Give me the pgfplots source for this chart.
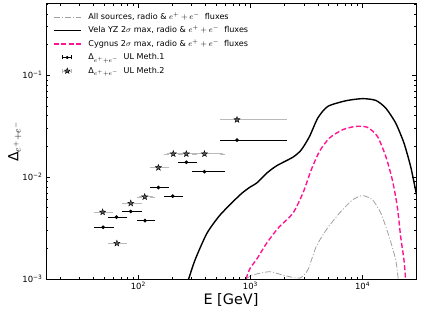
\documentclass[border=0pt]{standalone}
\usepackage{fontspec}
\setmainfont{DejaVu Sans}
\usepackage{pgfplots}
\pgfplotsset{compat=1.18}
\definecolor{cyg}{RGB}{255,20,147}
\definecolor{allsrc}{RGB}{160,160,160}
\definecolor{ebgray}{RGB}{185,185,185}
\definecolor{stargray}{RGB}{90,90,90}
\pgfdeclareplotmark{fstar}{%
 \pgfpathmoveto{\pgfqpointpolar{90}{\pgfplotmarksize}}%
 \pgfpathlineto{\pgfqpointpolar{126}{0.4\pgfplotmarksize}}%
 \pgfpathlineto{\pgfqpointpolar{162}{\pgfplotmarksize}}%
 \pgfpathlineto{\pgfqpointpolar{198}{0.4\pgfplotmarksize}}%
 \pgfpathlineto{\pgfqpointpolar{234}{\pgfplotmarksize}}%
 \pgfpathlineto{\pgfqpointpolar{270}{0.4\pgfplotmarksize}}%
 \pgfpathlineto{\pgfqpointpolar{306}{\pgfplotmarksize}}%
 \pgfpathlineto{\pgfqpointpolar{342}{0.4\pgfplotmarksize}}%
 \pgfpathlineto{\pgfqpointpolar{18}{\pgfplotmarksize}}%
 \pgfpathlineto{\pgfqpointpolar{54}{0.4\pgfplotmarksize}}%
 \pgfpathclose
 \pgfusepathqfillstroke}

\pgfplotstableread{
x y em ep
48.5 3.22e-3 6.1 8.7
63.8 4.05e-3 7.0 12.2
85.5 4.6e-3 9.5 16.5
114.5 3.74e-3 12.5 20.5
151 7.9e-3 16 28
202.6 6.5e-3 23.6 36.4
268 1.40e-2 29 49
389 1.13e-2 72 178
759 2.31e-2 192 1236
}\methone
\pgfplotstableread{
x y em ep
48 4.53e-3 5.6 8.8
64.3 2.24e-3 7.5 11.7
85.5 5.54e-3 9.5 16.5
114 6.4e-3 12 21
151 1.24e-2 16 28
205 1.69e-2 26 34
268 1.69e-2 29 49
389 1.69e-2 72 178
759 3.66e-2 192 1236
}\methtwo

\begin{document}
\begin{tikzpicture}
% data and legend
\begin{axis}[
 scale only axis, width=370bp, height=275bp,
 xmode=log, ymode=log,
 xmin=15, xmax=30000, ymin=1e-3, ymax=0.5,
 xtick=\empty, ytick=\empty,
 axis line style={line width=1bp},
 legend style={draw=none, fill=none, inner sep=0pt, outer sep=0pt,
   at={(axis description cs:0.019,0.970)}, anchor=north west,
   font=\fontsize{8.1}{9}\selectfont, row sep=4bp, column sep=6bp,
   nodes={inner sep=1bp, text height=6bp, text depth=1.5bp}},
 legend cell align=left,
]
\addlegendimage{legend image code/.code={\draw[allsrc, line width=0.8bp, dash pattern=on 6bp off 2bp on 1bp off 2bp] (0bp,0bp)--(27bp,0bp);}}
\addlegendentry{All sources, radio \& $e^{+}+e^{-}$\ \ fluxes}
\addlegendimage{legend image code/.code={\draw[black, line width=1.4bp] (0bp,0bp)--(27bp,0bp);}}
\addlegendentry{Vela YZ 2$\sigma$ max, radio \& $e^{+}+e^{-}$\ \ fluxes}
\addlegendimage{legend image code/.code={\draw[cyg, line width=1.4bp, dash pattern=on 5bp off 2.5bp] (0bp,0bp)--(27bp,0bp);}}
\addlegendentry{Cygnus 2$\sigma$ max, radio \& $e^{+}+e^{-}$\ \ fluxes}
\addlegendimage{legend image code/.code={\draw[black, line width=0.6bp] (9bp,0bp)--(18bp,0bp) (9bp,-2bp)--(9bp,2bp) (18bp,-2bp)--(18bp,2bp); \fill[black] (13.5bp,0bp) circle (1.4bp);}}
\addlegendentry{Δ$_{e^{+}+e^{-}}$ \ UL Meth.1}
\addlegendimage{legend image code/.code={\draw[ebgray, line width=0.6bp] (9bp,0bp)--(18bp,0bp) (9bp,-2bp)--(9bp,2bp) (18bp,-2bp)--(18bp,2bp); \draw[black, fill=stargray, line width=0.4bp, mark size=3bp] plot[only marks, mark=fstar] coordinates {(13.5bp,0bp)};}}
\addlegendentry{Δ$_{e^{+}+e^{-}}$ \ UL Meth.2}

% Meth.1
\addplot[forget plot, black, line width=0.8bp, only marks, mark=*, mark size=1.4bp,
  error bars/.cd, x dir=both, x explicit, error mark options={black, mark size=2.5bp, line width=0.6bp},
  error bar style={black, line width=0.8bp}]
  table[x=x, y=y, x error minus=em, x error plus=ep] {\methone};
% Meth.2
\addplot[forget plot, only marks, mark=fstar, mark size=3.2bp, mark options={draw=black, fill=stargray, line width=0.4bp},
  error bars/.cd, x dir=both, x explicit, error mark options={ebgray, mark size=2.5bp, line width=0.6bp},
  error bar style={ebgray, line width=0.8bp}]
  table[x=x, y=y, x error minus=em, x error plus=ep] {\methtwo};
% All sources
\addplot[forget plot, allsrc, line width=0.8bp, dash pattern=on 6bp off 2bp on 1bp off 2bp, smooth, tension=0.4] coordinates {
(893,0.98e-3) (1030,1.09e-3) (1489,1.18e-3) (1954,1.09e-3) (2748,1.02e-3) (3253,1.23e-3)
(3862,2.08e-3) (4740,3.03e-3) (6220,4.43e-3) (8150,5.98e-3) (10000,6.59e-3) (12270,5.98e-3)
(14560,4.43e-3) (17260,2.61e-3) (19770,1.54e-3) (20850,0.98e-3)};
% Cygnus
\addplot[forget plot, cyg, line width=1.4bp, dash pattern=on 5bp off 2.5bp, smooth, tension=0.4] coordinates {
(912,1e-3) (991,1.27e-3) (1135,1.56e-3) (1393,2.24e-3) (1763,3.15e-3) (2395,4.43e-3) (2937,6.96e-3)
(3489,1.18e-2) (4130,1.79e-2) (5070,2.42e-2) (6650,2.92e-2) (8740,3.15e-2) (11070,3.08e-2)
(13580,2.51e-2) (16110,1.60e-2) (18450,9.4e-3) (20420,5.14e-3) (21880,2.61e-3) (23420,1.54e-3) (24270,0.98e-3)};
% Vela
\addplot[forget plot, black, line width=1.4bp, smooth, tension=0.4] coordinates {
(281,1e-3) (322,1.56e-3) (409,2.81e-3) (537,4.26e-3) (808,6.7e-3) (991,7.98e-3) (1135,8.73e-3)
(1393,1.09e-2) (1708,1.29e-2) (2395,1.57e-2) (2842,1.85e-2) (3368,2.51e-2) (3990,3.80e-2)
(4893,4.94e-2) (7130,5.62e-2) (10000,5.89e-2) (13140,5.66e-2) (16110,4.76e-2) (19770,3.39e-2)
(23420,2.16e-2) (26870,1.27e-2) (29720,7.5e-3) (31000,6.0e-3)};
\end{axis}
% frame, ticks and labels (drawn last)
\begin{axis}[
 scale only axis, width=370bp, height=275bp,
 xmode=log, ymode=log,
 xmin=15, xmax=30000, ymin=1e-3, ymax=0.5,
 major tick length=4.5bp, minor tick length=2.5bp,
 every major tick/.append style={black, line width=0.8bp},
 every minor tick/.append style={black, line width=0.7bp},
 axis line style={line width=1bp},
 log number format basis/.code 2 args={10\textsuperscript{\ifdim#2pt<0pt −\pgfmathparse{-#2}\pgfmathprintnumber[assume math mode=true]{\pgfmathresult}\else\pgfmathprintnumber[assume math mode=true]{#2}\fi}},
 ticklabel style={font=\fontsize{8.5}{9}\selectfont},
 xlabel={E [GeV]},
 xlabel style={font=\fontsize{14.5}{15}\selectfont, at={(axis description cs:0.5,-0.076)}, anchor=center},
 ylabel={Δ$_{e^{+}+e^{-}}$},
 ylabel style={font=\fontsize{14}{15}\selectfont, at={(axis description cs:-0.084,0.5)}, anchor=center},
]
\addplot[forget plot, black, line width=0.5bp] coordinates {(2,1e-5) (3,1e-5)};
\end{axis}
\path (-46bp,-37bp) rectangle (375bp,279bp);
\end{tikzpicture}
\end{document}
